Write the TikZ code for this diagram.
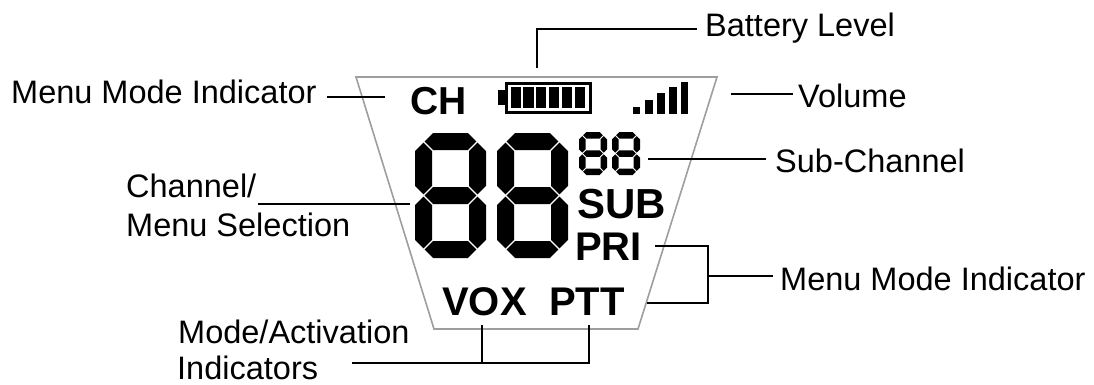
\documentclass[tikz,border=0pt]{standalone}
\usepackage{fontspec}
\setmainfont{Liberation Sans}
\newcommand\lcdhseg[5]{% xa xb yc t g
  \fill[lcd] ({#1+#5},{#3}) -- ({#1+#4/2+#5},{#3-#4/2}) -- ({#2-#4/2-#5},{#3-#4/2}) -- ({#2-#5},{#3}) -- ({#2-#4/2-#5},{#3+#4/2}) -- ({#1+#4/2+#5},{#3+#4/2}) -- cycle;}
\newcommand\lcdvseg[5]{% xc ya yb t g
  \fill[lcd] ({#1},{#2+#5}) -- ({#1+#4/2},{#2+#4/2+#5}) -- ({#1+#4/2},{#3-#4/2-#5}) -- ({#1},{#3-#5}) -- ({#1-#4/2},{#3-#4/2-#5}) -- ({#1-#4/2},{#2+#4/2+#5}) -- cycle;}
\newcommand\lcddigit[6]{% x y W H t g
  \lcdhseg{#1+#5/2}{#1+#3-#5/2}{#2+#5/2}{#5}{#6}
  \lcdhseg{#1+#5/2}{#1+#3-#5/2}{#2+#4/2}{#5}{#6}
  \lcdhseg{#1+#5/2}{#1+#3-#5/2}{#2+#4-#5/2}{#5}{#6}
  \lcdvseg{#1+#5/2}{#2+#5/2}{#2+#4/2}{#5}{#6}
  \lcdvseg{#1+#3-#5/2}{#2+#5/2}{#2+#4/2}{#5}{#6}
  \lcdvseg{#1+#5/2}{#2+#4/2}{#2+#4-#5/2}{#5}{#6}
  \lcdvseg{#1+#3-#5/2}{#2+#4/2}{#2+#4-#5/2}{#5}{#6}}
\begin{document}
\begin{tikzpicture}[x=1pt,y=-1pt,
  lcd/.style={fill=black},
  lbl/.style={font=\fontsize{32.5}{39}\selectfont, inner sep=0pt, anchor=base west, align=left},
  lbl1/.style={font=\fontsize{32.5}{39}\selectfont, inner sep=0pt, anchor=base west},
  lcdtxt/.style={font=\bfseries\fontsize{42}{42}\selectfont, inner sep=0pt, anchor=base west},
  leader/.style={line width=2.6pt, black, line join=miter},
  panel/.style={draw=black!38, line width=1.6pt, line join=miter}]
\useasboundingbox (0,0) rectangle (1094,385);

% display panel
\draw[panel] (356,77) -- (717,77) -- (638,329) -- (434,329) -- cycle;

% LCD contents
\node[lcdtxt, font=\bfseries\fontsize{39}{39}\selectfont] (ch) at (410,115) {CH};
% battery
\fill (498,90) rectangle (506,105);
\draw[line width=3pt] (506.5,83.5) rectangle (590.5,112.5);
\foreach \i in {0,...,5}{\fill ({510.5+\i*12.8},87.5) rectangle ({510.5+\i*12.8+10.3},108.5);}
% volume
\fill (633,107) rectangle (640,114);
\fill (645,100) rectangle (652.5,114);
\fill (657,93) rectangle (664.5,114);
\fill (669,87) rectangle (676.5,114);
\fill (680.5,82) rectangle (688,114);
% big digits
\lcddigit{415}{133}{71}{125}{17}{1.2}
\lcddigit{497}{133}{71}{125}{17}{1.2}
% small digits
\lcddigit{579}{132}{28}{43}{6.5}{0.8}
\lcddigit{612}{132}{28}{43}{6.5}{0.8}
\node[lcdtxt] (sub) at (577,218) {SUB};
\node[lcdtxt, font=\bfseries\fontsize{40}{40}\selectfont] (pri) at (575,260) {PRI};
\node[lcdtxt, font=\bfseries\fontsize{40}{40}\selectfont] (vox) at (442,315) {VOX};
\node[lcdtxt, font=\bfseries\fontsize{40}{40}\selectfont] (ptt) at (549,315) {PTT};

% labels
\node[lbl1] (battlbl) at (705,37) {Battery Level};
\node[lbl1] (mmleft) at (11,104) {Menu Mode Indicator};
\node[lbl1] (vollbl) at (798,107) {Volume};
\node[lbl1] (sublbl) at (775,172) {Sub-Channel};
\node[lbl] (chlbl) at (126,236) {Channel/\\Menu Selection};
\node[lbl1] (modelbl) at (178,343) {Mode/Activation};
\node[lbl1] (modelbl2) at (177,379) {Indicators};
\node[lbl1] (mmright) at (780,290) {Menu Mode Indicator};

% connector end points
\coordinate (batt-top) at (537,68);
\coordinate (batt-end) at (697,29);
\coordinate (vol-a) at (731,94);
\coordinate (vol-b) at (793,94);
\coordinate (mml-a) at (327,97);
\coordinate (mml-b) at (385,97);
\coordinate (sub-a) at (648,159);
\coordinate (sub-b) at (766,159);
\coordinate (ch-a) at (258,204);
\coordinate (ch-b) at (410,204);
\coordinate (pri-a) at (655,246);
\coordinate (brk-top) at (708,246);
\coordinate (brk-mid) at (708,276);
\coordinate (brk-bot) at (708,303);
\coordinate (ptt-a) at (647,303);
\coordinate (mmr-b) at (773,276);
\coordinate (vox-top) at (482,325);
\coordinate (vox-bot) at (482,363);
\coordinate (ptt-top) at (589,325);
\coordinate (ptt-bot) at (589,363);
\coordinate (mode-a) at (352,363);

% connectors
\draw[leader] (batt-top) |- (batt-end);
\draw[leader] (vol-a) -- (vol-b);
\draw[leader] (mml-a) -- (mml-b);
\draw[leader] (sub-a) -- (sub-b);
\draw[leader] (ch-a) -- (ch-b);
\draw[leader] (pri-a) -- (brk-top) -- (brk-bot) -- (ptt-a);
\draw[leader] (brk-mid) -- (mmr-b);
\draw[leader] (mode-a) -- (ptt-bot) -- (ptt-top);
\draw[leader] (vox-top) -- (vox-bot);
\end{tikzpicture}
\end{document}
